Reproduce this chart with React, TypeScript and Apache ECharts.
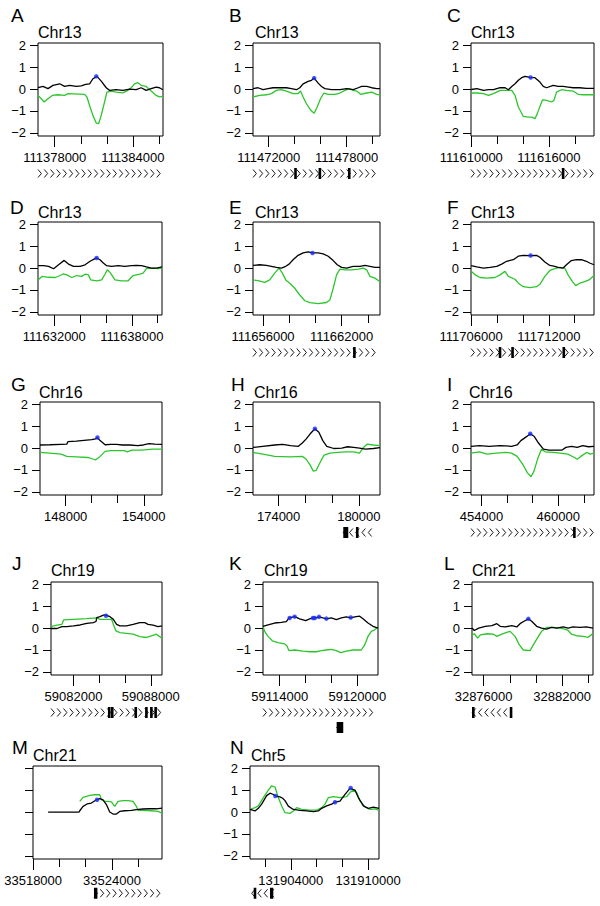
import React, { useEffect, useRef } from 'react';
import * as echarts from 'echarts';

const FONT = '"Liberation Sans", Arial, Helvetica, sans-serif';
const GREEN = '#2cc62c';
const BLUE = '#1a2cff';

const letters = ['A', 'B', 'C', 'D', 'E', 'F', 'G', 'H', 'I', 'J', 'K', 'L', 'M', 'N'];
const chromosomes = ['Chr13', 'Chr13', 'Chr13', 'Chr13', 'Chr13', 'Chr13', 'Chr16', 'Chr16', 'Chr16', 'Chr19', 'Chr19', 'Chr21', 'Chr21', 'Chr5'];
const yTickValues = [-2, -1, 0, 1, 2];
const yExtent = [-2.14, 2.1];

const xExtents = [
  [111376715, 111386308], [111470788, 111480569], [111609980, 111619487],
  [111630744, 111640333], [111655235, 111664925], [111705990, 111715487],
  [146030, 155400], [172082, 181582], [453180, 462790],
  [59080250, 59088873], [59112712, 59121596], [32875114, 32884356],
  [33517990, 33527799], [131900836, 131910844],
];
const xTicks = [
  [111378000, 111380000, 111382000, 111384000, 111386000],
  [111472000, 111474000, 111476000, 111478000, 111480000],
  [111610000, 111612000, 111614000, 111616000, 111618000],
  [111632000, 111634000, 111636000, 111638000, 111640000],
  [111656000, 111658000, 111660000, 111662000, 111664000],
  [111706000, 111708000, 111710000, 111712000, 111714000],
  [148000, 150000, 152000, 154000],
  [174000, 176000, 178000, 180000],
  [454000, 456000, 458000, 460000, 462000],
  [59082000, 59084000, 59086000, 59088000],
  [59114000, 59116000, 59118000, 59120000],
  [32876000, 32878000, 32880000, 32882000, 32884000],
  [33518000, 33520000, 33522000, 33524000, 33526000],
  [131902000, 131904000, 131906000, 131908000, 131910000],
];
const xLabels = [
  [111378000, 111384000], [111472000, 111478000], [111610000, 111616000],
  [111632000, 111638000], [111656000, 111662000], [111706000, 111712000],
  [148000, 154000], [174000, 180000], [454000, 460000],
  [59082000, 59088000], [59114000, 59120000], [32876000, 32882000],
  [33518000, 33524000], [131904000, 131910000],
];

// ---------- A ----------
const blackA = [[111376715,0.06],[111377098,0.12],[111377481,0.02],[111377864,0.17],[111378375,0.24],[111378758,0.12],[111379141,0.17],[111379652,0.12],[111380035,0.15],[111380367,0.21],[111380674,0.24],[111380929,0.47],[111381236,0.58],[111381568,0.36],[111381951,0.06],[111382206,-0.06],[111382717,-0.03],[111383228,-0.06],[111383739,0.0],[111384249,-0.03],[111384632,0.06],[111385015,-0.06],[111385399,0.02],[111385782,0.09],[111386037,0.06],[111386293,-0.03]];
const greenA = [[111376715,-0.29],[111376970,-0.44],[111377175,-0.59],[111377481,-0.44],[111377813,-0.29],[111378247,-0.26],[111378758,-0.29],[111379014,-0.21],[111379908,-0.23],[111380291,-0.24],[111380469,-0.36],[111380674,-0.75],[111380929,-1.2],[111381185,-1.55],[111381363,-1.58],[111381568,-1.2],[111381823,-0.59],[111382002,-0.14],[111382334,-0.09],[111382717,-0.14],[111383228,-0.17],[111383611,-0.06],[111383866,0.06],[111384122,0.24],[111384377,0.29],[111384632,0.17],[111385015,0.12],[111385399,-0.09],[111385782,-0.29],[111386037,-0.36],[111386293,-0.33]];
const blueA = [[111381185,0.58]];
const genesA = [[111376715,111386308,1,0]];
const exonsA: number[][] = [];

// ---------- B ----------
const blackB = [[111470788,0.02],[111471174,0.06],[111471560,-0.03],[111471946,0.02],[111472332,0.06],[111472847,0.06],[111473362,0.06],[111473748,0.02],[111474134,-0.03],[111474392,0.06],[111474649,0.24],[111475035,0.35],[111475293,0.4],[111475498,0.5],[111475807,0.27],[111476065,0.12],[111476322,0.02],[111476837,-0.03],[111477480,-0.03],[111477995,0.02],[111478510,-0.03],[111478896,0.06],[111479154,0.12],[111479540,0.12],[111479926,0.06],[111480312,0.02],[111480569,0.02]];
const greenB = [[111470788,-0.36],[111471303,-0.29],[111471818,-0.26],[111472204,-0.21],[111472590,-0.06],[111472976,-0.03],[111473362,-0.09],[111473877,-0.21],[111474263,-0.21],[111474443,-0.09],[111474649,-0.36],[111474906,-0.67],[111475241,-0.97],[111475498,-1.1],[111475730,-0.82],[111475987,-0.44],[111476245,-0.18],[111476580,-0.24],[111477094,-0.24],[111477480,-0.18],[111477867,-0.06],[111478201,0.02],[111478510,-0.06],[111478767,-0.09],[111479076,-0.24],[111479540,-0.18],[111479926,-0.14],[111480312,-0.24],[111480569,-0.26]];
const blueB = [[111475498,0.5]];
const genesB = [[111470788,111480569,1,0]];
const exonsB = [[111474062,111474062,0],[111475939,111475939,0],[111478201,111478201,0]];

// ---------- C ----------
const blackC = [[111610000,-0.02],[111610436,0.02],[111610949,-0.06],[111611333,-0.03],[111611718,-0.03],[111611974,0.02],[111612231,0.06],[111612615,0.06],[111612872,-0.03],[111613128,0.12],[111613384,0.24],[111613641,0.4],[111613897,0.52],[111614154,0.58],[111614538,0.53],[111614923,0.52],[111615307,0.32],[111615564,0.12],[111615820,0.06],[111616333,0.17],[111616718,0.12],[111617102,0.12],[111617487,0.09],[111617871,0.06],[111618384,0.06],[111618897,0.03],[111619487,0.03]];
const greenC = [[111610000,-0.18],[111610436,-0.18],[111610949,-0.21],[111611333,-0.29],[111611718,-0.21],[111612231,-0.06],[111612743,-0.06],[111613128,-0.06],[111613384,-0.29],[111613641,-0.82],[111614025,-1.25],[111614410,-1.28],[111614666,-1.28],[111614923,-1.35],[111615102,-1.13],[111615307,-0.79],[111615513,-0.49],[111615820,-0.52],[111616205,-0.59],[111616384,-0.52],[111616589,-0.14],[111616974,-0.03],[111617359,-0.06],[111617871,-0.09],[111618256,-0.24],[111618641,-0.26],[111619487,-0.26]];
const blueC = [[111614590,0.53]];
const genesC = [[111609980,111619487,1,0]];
const exonsC = [[111617100,111617100,0]];

// ---------- D ----------
const blackD = [[111630744,0.11],[111631180,0.11],[111631564,0.08],[111631949,-0.03],[111632333,0.15],[111632769,0.35],[111633103,0.18],[111633487,0.08],[111634000,0.08],[111634385,0.15],[111634769,0.31],[111635154,0.43],[111635282,0.46],[111635538,0.38],[111635795,0.23],[111636051,0.11],[111636436,0.08],[111636949,0.11],[111637461,0.08],[111637974,0.11],[111638359,0.12],[111638743,0.11],[111639128,0.05],[111639513,0.0],[111639897,0.0],[111640333,0.05]];
const greenD = [[111630744,-0.54],[111631051,-0.38],[111631564,-0.42],[111632077,-0.43],[111632462,-0.34],[111632718,-0.26],[111632974,-0.31],[111633359,-0.43],[111633744,-0.34],[111634128,-0.38],[111634385,-0.28],[111634641,-0.31],[111634820,-0.54],[111635282,-0.58],[111635667,-0.54],[111635923,-0.28],[111636102,-0.08],[111636359,-0.23],[111636692,-0.54],[111637205,-0.58],[111637717,-0.58],[111638102,-0.34],[111638615,-0.28],[111638872,-0.23],[111639128,-0.03],[111639641,0.0],[111640026,-0.03],[111640333,0.0]];
const blueD = [[111635282,0.46]];
const genesD: number[][] = [];
const exonsD: number[][] = [];

// ---------- E ----------
const blackE = [[111655235,0.12],[111655745,0.15],[111656255,0.12],[111656638,0.08],[111657020,0.03],[111657403,0.0],[111657734,0.08],[111657989,0.18],[111658295,0.38],[111658678,0.58],[111659060,0.69],[111659443,0.74],[111659774,0.69],[111660208,0.69],[111660590,0.65],[111660973,0.54],[111661355,0.34],[111661661,0.15],[111661993,0.03],[111662375,0.0],[111662885,0.08],[111663395,0.08],[111663778,0.12],[111664160,0.08],[111664543,0.03],[111664925,0.03]];
const greenE = [[111655235,-0.54],[111655617,-0.57],[111656128,-0.65],[111656510,-0.54],[111656893,-0.23],[111657224,0.0],[111657479,-0.23],[111657734,-0.54],[111658040,-0.69],[111658423,-0.92],[111658805,-1.23],[111659188,-1.49],[111659570,-1.58],[111660208,-1.62],[111660845,-1.57],[111661100,-1.46],[111661355,-0.92],[111661610,-0.31],[111661865,-0.05],[111662248,-0.08],[111662758,-0.08],[111663268,-0.05],[111663650,0.0],[111663905,-0.08],[111664160,-0.38],[111664543,-0.46],[111664925,-0.62]];
const blueE = [[111659774,0.69]];
const genesE = [[111655235,111664925,1,0]];
const exonsE = [[111662970,111662970,0]];

// ---------- F ----------
const blackF = [[111706000,0.11],[111706436,0.05],[111706949,0.0],[111707461,0.03],[111707974,0.08],[111708359,0.18],[111708743,0.31],[111709256,0.38],[111709641,0.54],[111710025,0.58],[111710538,0.57],[111711051,0.58],[111711307,0.49],[111711692,0.28],[111712077,0.12],[111712461,0.08],[111712718,0.03],[111713102,0.0],[111713359,0.15],[111713743,0.34],[111714128,0.38],[111714512,0.38],[111714897,0.31],[111715153,0.23],[111715487,0.15]];
const greenF = [[111706000,-0.15],[111706308,-0.31],[111706692,-0.43],[111707205,-0.46],[111707846,-0.43],[111708231,-0.31],[111708615,-0.15],[111708872,-0.38],[111709384,-0.51],[111709641,-0.69],[111710025,-0.85],[111710538,-0.89],[111711051,-0.85],[111711307,-0.74],[111711692,-0.38],[111712077,-0.11],[111712461,-0.03],[111712846,0.03],[111713230,0.0],[111713487,-0.31],[111713820,-0.62],[111714077,-0.8],[111714384,-0.69],[111714769,-0.62],[111715102,-0.54],[111715487,-0.34]];
const blueF = [[111710590,0.57]];
const genesF = [[111705990,111715487,1,0]];
const exonsF = [[111708231,111708231,0],[111709200,111709200,0],[111713154,111713154,0]];

// ---------- G ----------
const blackG = [[146030,0.14],[146765,0.15],[147647,0.17],[148088,0.18],[148176,0.29],[148823,0.32],[149411,0.35],[150000,0.38],[150293,0.42],[150440,0.48],[150646,0.34],[151028,0.15],[151469,0.17],[151910,0.17],[152351,0.14],[152939,0.14],[153527,0.11],[153968,0.14],[154409,0.2],[154850,0.18],[155400,0.17]];
const greenG = [[146030,-0.2],[146765,-0.23],[147647,-0.28],[148088,-0.38],[148823,-0.4],[149705,-0.43],[150146,-0.51],[150293,-0.54],[150646,-0.38],[151028,-0.15],[151469,-0.12],[152057,-0.12],[152498,-0.12],[152733,-0.17],[153086,-0.09],[153821,-0.09],[154703,-0.05],[155400,-0.05]];
const blueG = [[150440,0.48]];
const genesG: number[][] = [];
const exonsG: number[][] = [];

// ---------- H ----------
const blackH = [[172082,0.03],[172820,0.08],[173705,0.14],[174295,0.17],[174885,0.11],[175475,0.08],[175770,0.23],[176065,0.42],[176360,0.65],[176714,0.88],[177009,0.72],[177304,0.34],[177599,0.08],[178130,-0.02],[178720,0.0],[179163,0.06],[179605,0.03],[180048,0.0],[180490,-0.05],[181080,-0.02],[181582,0.02]];
const greenH = [[172082,-0.2],[172820,-0.28],[173705,-0.38],[174885,-0.4],[175770,-0.38],[176065,-0.51],[176360,-0.78],[176596,-1.05],[176803,-1.02],[177098,-0.66],[177393,-0.32],[177835,-0.23],[178425,-0.2],[179015,-0.17],[179605,-0.17],[180048,-0.23],[180343,0.03],[180638,0.18],[181080,0.14],[181582,0.11]];
const blueH = [[176714,0.88]];
const genesH = [[178835,181330,-1,0]];
const exonsH = [[178835,179209,0],[179880,179880,0]];

// ---------- I ----------
const blackI = [[453180,0.08],[453853,0.11],[454586,0.08],[455465,0.11],[456344,0.08],[456784,0.14],[457077,0.34],[457516,0.52],[457809,0.65],[458102,0.54],[458454,0.23],[458835,-0.05],[459274,-0.09],[459860,-0.09],[460300,-0.09],[460593,0.03],[461032,0.08],[461472,0.03],[461911,0.11],[462351,0.06],[462790,0.08]];
const greenI = [[453180,-0.23],[453853,-0.17],[454440,-0.28],[455172,-0.23],[455905,-0.2],[456344,-0.23],[456784,-0.38],[457223,-0.74],[457575,-1.12],[457868,-1.31],[458102,-1.05],[458395,-0.48],[458688,-0.05],[458981,-0.17],[459567,-0.2],[460153,-0.23],[460739,-0.28],[461266,-0.43],[461472,-0.51],[461765,-0.38],[462204,-0.2],[462497,-0.28],[462790,-0.23]];
const blueI = [[457809,0.65]];
const genesI = [[453180,462790,1,0]];
const exonsI = [[461257,461257,0]];

// ---------- J ----------
const blackJ = [[59080250,-0.02],[59080713,-0.02],[59081099,0.07],[59081485,0.07],[59082000,0.1],[59082515,0.14],[59083030,0.21],[59083544,0.25],[59083750,0.3],[59083802,0.48],[59084059,0.52],[59084317,0.59],[59084523,0.59],[59084831,0.52],[59085089,0.4],[59085346,0.17],[59085604,0.1],[59086118,0.1],[59086633,0.17],[59087148,0.25],[59087534,0.25],[59087792,0.17],[59088178,0.13],[59088564,0.07],[59088873,0.1]];
const greenJ = [[59080250,0.07],[59080713,0.13],[59081099,0.17],[59081228,0.37],[59082000,0.4],[59083030,0.43],[59083802,0.46],[59084059,0.4],[59084960,0.4],[59085089,0.17],[59085295,-0.13],[59085604,-0.21],[59086118,-0.24],[59086633,-0.28],[59087148,-0.39],[59087663,-0.43],[59088049,-0.36],[59088435,-0.28],[59088692,-0.39],[59088873,-0.48]];
const blueJ = [[59084523,0.56]];
const genesJ = [[59080250,59088819,1,0]];
const exonsJ = [[59084774,59084774,0],[59085006,59085006,0],[59086835,59086835,0],[59087661,59087661,0],[59088047,59088047,0],[59088379,59088379,0]];

// ---------- K ----------
const blackK = [[59112712,0.08],[59113099,0.15],[59113614,0.23],[59114129,0.26],[59114515,0.29],[59114721,0.46],[59114773,0.46],[59115159,0.52],[59115545,0.42],[59116009,0.34],[59116318,0.42],[59116575,0.46],[59116833,0.46],[59117039,0.51],[59117348,0.46],[59117605,0.42],[59117991,0.46],[59118378,0.38],[59118764,0.46],[59119150,0.51],[59119485,0.46],[59119794,0.51],[59120180,0.54],[59120438,0.42],[59120824,0.23],[59121210,0.08],[59121596,0.0]];
const greenK = [[59112712,0.08],[59112841,-0.15],[59113099,-0.38],[59113433,-0.58],[59113871,-0.66],[59114386,-0.72],[59114567,-0.82],[59114721,-1.03],[59115159,-1.0],[59115803,-1.05],[59116318,-1.08],[59116833,-1.08],[59117219,-1.03],[59117605,-1.0],[59117991,-0.97],[59118378,-1.03],[59118712,-1.12],[59119150,-1.05],[59119665,-1.0],[59120309,-1.0],[59120566,-0.77],[59120824,-0.38],[59121081,-0.15],[59121339,-0.08],[59121596,0.05]];
const blueK = [[59114773,0.46],[59115159,0.52],[59116575,0.46],[59116704,0.46],[59117039,0.51],[59117605,0.43],[59119485,0.48]];
const genesK = [[59112712,59121596,1,0],[59118402,59119042,-1,1]];
const exonsK = [[59118402,59118911,1]];

// ---------- L ----------
const blackL = [[32875114,0.0],[32875291,-0.11],[32875620,0.0],[32876127,0.08],[32876633,0.11],[32877013,0.2],[32877266,0.08],[32877646,0.05],[32878152,0.11],[32878532,0.05],[32878785,0.2],[32879089,0.31],[32879418,0.42],[32879671,0.31],[32880051,0.08],[32880431,0.0],[32880811,-0.05],[32881191,0.03],[32881570,0.0],[32882077,0.05],[32882457,0.0],[32882836,0.05],[32883343,0.03],[32883849,0.05],[32884356,0.0]];
const greenL = [[32875114,-0.31],[32875291,-0.26],[32875544,-0.46],[32875747,-0.31],[32876253,-0.26],[32876760,-0.28],[32877013,-0.38],[32877393,-0.28],[32877772,-0.2],[32878026,-0.15],[32878405,-0.38],[32878735,-0.77],[32879038,-1.0],[32879545,-1.03],[32879798,-0.77],[32880102,-0.46],[32880431,-0.15],[32880811,0.03],[32881317,0.03],[32881824,0.0],[32882203,-0.05],[32882457,-0.11],[32882710,-0.28],[32883090,-0.35],[32883596,-0.38],[32883976,-0.42],[32884229,-0.31],[32884356,-0.23]];
const blueL = [[32879418,0.42]];
const genesL = [[32875137,32878173,-1,0]];
const exonsL = [[32875137,32875290,0],[32878097,32878097,0]];

// ---------- M ----------
const blackM = [[33519139,0.0],[33521494,0.0],[33521545,0.06],[33521798,0.26],[33522102,0.37],[33522431,0.41],[33522811,0.56],[33523064,0.61],[33523317,0.56],[33523570,0.34],[33523824,0.0],[33524077,-0.09],[33524330,-0.09],[33524583,0.03],[33524963,0.06],[33525469,0.08],[33525849,0.11],[33526356,0.14],[33526862,0.15],[33527368,0.15],[33527799,0.18]];
const greenM = [[33521545,0.49],[33521798,0.67],[33522304,0.76],[33522684,0.79],[33523064,0.79],[33523191,0.56],[33523444,0.49],[33523697,0.49],[33523950,0.46],[33524203,0.26],[33524457,0.49],[33524836,0.52],[33525216,0.52],[33525596,0.49],[33525849,0.26],[33525976,0.08],[33526356,0.08],[33526989,0.06],[33527495,0.03],[33527799,-0.05]];
const blueM = [[33522861,0.56]];
const genesM = [[33522630,33527746,1,0]];
const exonsM = [[33522630,33522888,0]];

// ---------- N ----------
const blackN = [[131900836,0.12],[131901224,0.05],[131901483,0.17],[131901741,0.36],[131902129,0.75],[131902388,0.86],[131902647,0.8],[131902853,0.73],[131903164,0.69],[131903371,0.63],[131903552,0.52],[131903810,0.27],[131904198,0.12],[131904715,0.08],[131905233,0.05],[131905750,0.02],[131906138,0.05],[131906396,0.17],[131906784,0.28],[131907172,0.36],[131907431,0.45],[131907819,0.5],[131908206,0.81],[131908594,1.08],[131908982,1.0],[131909241,0.66],[131909629,0.28],[131910017,0.17],[131910405,0.23],[131910844,0.17]];
const greenN = [[131900836,0.12],[131901224,0.2],[131901483,0.28],[131901871,0.66],[131902259,1.0],[131902517,1.2],[131902776,1.14],[131903034,0.66],[131903293,0.28],[131903552,-0.03],[131903940,-0.06],[131904198,0.05],[131904457,0.2],[131904845,0.12],[131905491,0.09],[131906008,0.09],[131906396,0.2],[131906655,0.36],[131906913,0.66],[131907301,0.7],[131907819,0.66],[131908336,0.7],[131908594,0.89],[131908853,1.0],[131909112,0.89],[131909370,0.52],[131909758,0.23],[131910146,0.12],[131910534,0.14],[131910844,0.08]];
const blueN = [[131902802,0.73],[131907431,0.45],[131908646,1.1]];
const genesN = [[131900968,131902644,-1,0]];
const exonsN = [[131901224,131901224,0],[131902388,131902644,0]];

const PANELS = [
  { black: blackA, green: greenA, blue: blueA, genes: genesA, exons: exonsA },
  { black: blackB, green: greenB, blue: blueB, genes: genesB, exons: exonsB },
  { black: blackC, green: greenC, blue: blueC, genes: genesC, exons: exonsC },
  { black: blackD, green: greenD, blue: blueD, genes: genesD, exons: exonsD },
  { black: blackE, green: greenE, blue: blueE, genes: genesE, exons: exonsE },
  { black: blackF, green: greenF, blue: blueF, genes: genesF, exons: exonsF },
  { black: blackG, green: greenG, blue: blueG, genes: genesG, exons: exonsG },
  { black: blackH, green: greenH, blue: blueH, genes: genesH, exons: exonsH },
  { black: blackI, green: greenI, blue: blueI, genes: genesI, exons: exonsI },
  { black: blackJ, green: greenJ, blue: blueJ, genes: genesJ, exons: exonsJ },
  { black: blackK, green: greenK, blue: blueK, genes: genesK, exons: exonsK },
  { black: blackL, green: greenL, blue: blueL, genes: genesL, exons: exonsL },
  { black: blackM, green: greenM, blue: blueM, genes: genesM, exons: exonsM },
  { black: blackN, green: greenN, blue: blueN, genes: genesN, exons: exonsN },
];

// ---------- layout ----------
const ROW_TOP = [43, 222, 402, 582, 766];
const BOX_H = 93;
const BOXES = [[38, 163], [253, 380], [471, 594], [38, 162], [253, 380], [471, 594], [40, 162], [253, 380], [471, 594], [51, 162], [263, 378], [472, 593], [33, 162], [250, 379]];
const LETTER_X = [11, 229, 447, 10, 229, 447, 11, 231, 447, 12, 229, 444, 12, 230];
const CHR_X = [38, 255, 471, 38, 255, 471, 39, 254, 469, 51, 264, 472, 33, 251];
const LETTER_CY = [15, 207, 384, 563, 747];
const CHR_CY = [32, 212, 392, 570, 755];
const Y_LABEL_HIDDEN = [12];

function laneY(lane: number) {
  return lane === 0 ? 3 : 1;
}

function renderGene(params: any, api: any) {
  const ly = laneY(api.value(3));
  const p0 = api.coord([api.value(0), ly]);
  const p1 = api.coord([api.value(1), ly]);
  const cs = params.coordSys;
  const xa = Math.max(Math.min(p0[0], p1[0]), cs.x);
  const xb = Math.min(Math.max(p0[0], p1[0]), cs.x + cs.width);
  const y = p0[1];
  const strand = api.value(2);
  const w = 3.4, h = 4, step = 6.25;
  const children: any[] = [];
  for (let x = xa; x + w <= xb + 0.6; x += step) {
    const pts = strand > 0
      ? [[x, y - h], [x + w, y], [x, y + h]]
      : [[x + w, y - h], [x, y], [x + w, y + h]];
    children.push({ type: 'polyline', shape: { points: pts }, style: { stroke: '#000', fill: null, lineWidth: 0.9 } });
  }
  return { type: 'group', children };
}

function renderExon(_params: any, api: any) {
  const ly = laneY(api.value(2));
  const p0 = api.coord([api.value(0), ly]);
  const p1 = api.coord([api.value(1), ly]);
  const wpx = Math.max(p1[0] - p0[0], 2.6);
  const cx = (p0[0] + p1[0]) / 2;
  return { type: 'rect', shape: { x: cx - wpx / 2, y: p0[1] - 5.5, width: wpx, height: 11 }, style: { fill: '#000' } };
}

function yFmt(v: number) {
  return v < 0 ? '\u2212' + Math.abs(v) : String(v);
}

function buildOption() {
  const option: any = {
    animation: false,
    backgroundColor: '#ffffff',
    title: [],
    grid: [],
    xAxis: [],
    yAxis: [],
    series: [],
  };
  const tickStyle = { color: '#000', width: 1 };
  PANELS.forEach((p, i) => {
    const row = Math.floor(i / 3);
    const [l, r] = BOXES[i];
    const top = ROW_TOP[row];
    const [xmin, xmax] = xExtents[i];

    option.title.push({
      text: letters[i], left: LETTER_X[i], top: LETTER_CY[row] - 9.5, padding: 0,
      textStyle: { fontSize: 19, lineHeight: 19, fontWeight: 'normal', color: '#000', fontFamily: FONT },
    });
    option.title.push({
      text: chromosomes[i], left: CHR_X[i], top: CHR_CY[row] - 8, padding: 0,
      textStyle: { fontSize: 16, lineHeight: 16, fontWeight: 'normal', color: '#000', fontFamily: FONT },
    });

    const gi = option.grid.length;
    option.grid.push({ left: l, top, width: r - l, height: BOX_H, show: true, borderColor: '#000', borderWidth: 1, backgroundColor: 'transparent' });
    const xi = option.xAxis.length;
    option.xAxis.push({
      gridIndex: gi, type: 'value', min: xmin, max: xmax, position: 'bottom',
      axisLine: { show: false, onZero: false },
      axisTick: { show: true, length: 11, lineStyle: tickStyle, customValues: xLabels[i] },
      axisLabel: { show: true, margin: 15, fontSize: 13, color: '#000', fontFamily: FONT, customValues: xLabels[i], formatter: (v: number) => String(v) },
      splitLine: { show: false },
    });
    option.xAxis.push({
      gridIndex: gi, type: 'value', min: xmin, max: xmax, position: 'bottom',
      axisLine: { show: false, onZero: false },
      axisTick: { show: true, length: 8, lineStyle: tickStyle, customValues: xTicks[i] },
      axisLabel: { show: false },
      splitLine: { show: false },
    });
    const yi = option.yAxis.length;
    option.yAxis.push({
      gridIndex: gi, type: 'value', min: yExtent[0], max: yExtent[1],
      axisLine: { show: false, onZero: false },
      axisTick: { show: true, length: 8, lineStyle: tickStyle, customValues: yTickValues },
      axisLabel: { show: !Y_LABEL_HIDDEN.includes(i), margin: 12, fontSize: 13, color: '#000', fontFamily: FONT, customValues: yTickValues, formatter: yFmt },
      splitLine: { show: false },
    });
    option.series.push({
      type: 'line', xAxisIndex: xi, yAxisIndex: yi, data: p.green, symbol: 'none', showSymbol: false,
      lineStyle: { color: GREEN, width: 1.3 }, silent: true, z: 2,
    });
    option.series.push({
      type: 'line', xAxisIndex: xi, yAxisIndex: yi, data: p.black, symbol: 'none', showSymbol: false,
      lineStyle: { color: '#000', width: 1.3 }, silent: true, z: 3,
    });
    option.series.push({
      type: 'scatter', xAxisIndex: xi, yAxisIndex: yi, data: p.blue, symbol: 'circle', symbolSize: 4.5,
      itemStyle: { color: BLUE }, silent: true, z: 4,
    });

    if (p.genes.length) {
      const gg = option.grid.length;
      option.grid.push({ left: l, top: top + BOX_H + 30, width: r - l, height: 30, show: false });
      const gx = option.xAxis.length;
      option.xAxis.push({ gridIndex: gg, type: 'value', min: xmin, max: xmax, show: false });
      const gy = option.yAxis.length;
      option.yAxis.push({ gridIndex: gg, type: 'value', min: 0, max: 4, show: false });
      option.series.push({ type: 'custom', xAxisIndex: gx, yAxisIndex: gy, data: p.genes, renderItem: renderGene, silent: true, z: 2 });
      if (p.exons.length) {
        option.series.push({ type: 'custom', xAxisIndex: gx, yAxisIndex: gy, data: p.exons, renderItem: renderExon, silent: true, z: 3 });
      }
    }
  });
  return option;
}

export default function App() {
  const ref = useRef<HTMLDivElement>(null);
  useEffect(() => {
    if (!ref.current) return;
    const chart = echarts.init(ref.current, null, { renderer: 'svg' });
    chart.setOption(buildOption());
    return () => chart.dispose();
  }, []);
  return (
    <div
      ref={ref}
      style={{ position: 'absolute', left: 0, top: 0, width: 600, height: 906, background: '#fff' }}
    />
  );
}
